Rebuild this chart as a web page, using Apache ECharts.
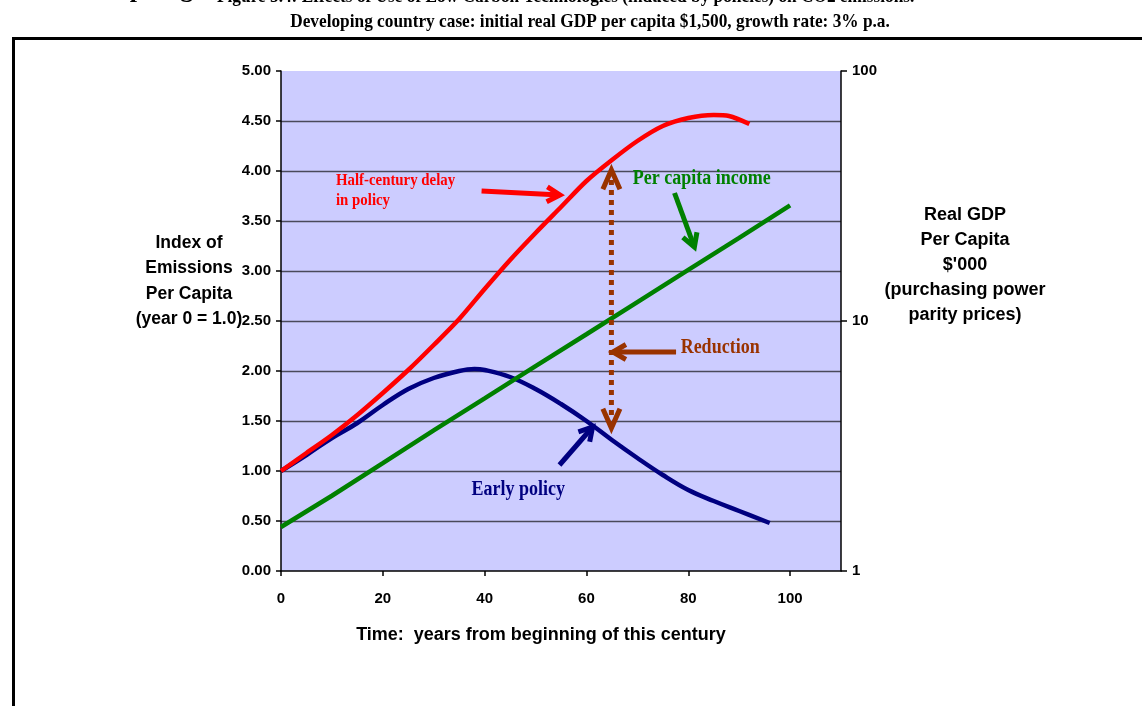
<!DOCTYPE html>
<html><head><meta charset="utf-8">
<script src="https://cdn.jsdelivr.net/npm/echarts@6/dist/echarts.min.js"></script>
<style>html,body{margin:0;padding:0;background:#fff;overflow:hidden}#c{width:1142px;height:706px}</style>
</head><body><div id="c"></div>
<script>
// ---- data ----
const delayYears = [0,5,10,15,20,25,30,35,40,45,50,55,60,65,70,75,80,85,88,92];
const delayIndex = [1.00,1.18,1.36,1.56,1.78,2.01,2.26,2.52,2.82,3.11,3.38,3.64,3.90,4.11,4.30,4.45,4.53,4.56,4.55,4.47];
const earlyYears = [0,5,10,15,20,25,30,35,38,40,45,50,55,60,65,70,75,80,85,90,96];
const earlyIndex = [1.00,1.16,1.33,1.48,1.66,1.82,1.93,2.00,2.02,2.01,1.94,1.82,1.67,1.50,1.31,1.13,0.96,0.81,0.70,0.60,0.48];
const incomeYears = [0,10,20,30,40,50,60,70,80,90,100];
const incomeGDP = [1.5,2.0,2.7,3.65,4.9,6.6,8.85,11.9,16.0,21.5,29.0];
const rightTickLabels = ['1','10','100'];

const titleLine1 = 'Figure 5.4: Effects of Use of Low Carbon Technologies (induced by policies) on CO2 emissions.';
const titleLine2 = 'Developing country case: initial real GDP per capita $1,500, growth rate: 3% p.a.';

(function () {
const zip = (xs, ys) => xs.map((x, i) => [x, ys[i]]);

const SANS = 'Liberation Sans, Arial, sans-serif';
const SERIF = 'Liberation Serif, Times New Roman, serif';
const RED = '#FF0000', GREEN = '#008000', NAVY = '#000080', BROWN = '#993300';

const chart = echarts.init(document.getElementById('c'), null, {renderer: 'canvas'});

chart.setOption({
  animation: false,
  backgroundColor: '#ffffff',
  grid: {left: 281, top: 71, width: 560, height: 500, show: true, backgroundColor: '#CCCCFF', borderWidth: 0},
  xAxis: {
    type: 'value', min: 0, max: 110, interval: 20,
    axisLine: {show: true, lineStyle: {color: '#000', width: 1.5}},
    axisTick: {show: true, length: 5, lineStyle: {color: '#000', width: 1.5}},
    axisLabel: {color: '#000', fontFamily: SANS, fontWeight: 'bold', fontSize: 15, margin: 20, showMaxLabel: false},
    splitLine: {show: false}
  },
  yAxis: [{
    type: 'value', min: 0, max: 5, interval: 0.5, position: 'left',
    axisLine: {show: true, lineStyle: {color: '#000', width: 1.5}},
    axisTick: {show: true, length: 5, lineStyle: {color: '#000', width: 1.5}},
    axisLabel: {color: '#000', fontFamily: SANS, fontWeight: 'bold', fontSize: 15, margin: 10,
      formatter: v => v.toFixed(2)},
    splitLine: {show: true, showMinLine: false, showMaxLine: false, lineStyle: {color: '#4a4a5a', width: 1.3}}
  }, {
    type: 'log', logBase: 10, min: 1, max: 100, position: 'right',
    axisLine: {show: true, lineStyle: {color: '#000', width: 1.5}},
    axisTick: {show: true, length: 6, lineStyle: {color: '#000', width: 1.5}},
    minorTick: {show: false},
    axisLabel: {color: '#000', fontFamily: SANS, fontWeight: 'bold', fontSize: 15, margin: 11,
      formatter: v => rightTickLabels[Math.round(Math.log10(v))]},
    splitLine: {show: false}
  }],
  series: [{
    name: 'Early policy', type: 'line', yAxisIndex: 0, data: zip(earlyYears, earlyIndex),
    showSymbol: false, smooth: 0.4, lineStyle: {color: NAVY, width: 4.5}, itemStyle: {color: NAVY}, z: 3
  }, {
    name: 'Half-century delay in policy', type: 'line', yAxisIndex: 0, data: zip(delayYears, delayIndex),
    showSymbol: false, smooth: 0.3, lineStyle: {color: RED, width: 4.5}, itemStyle: {color: RED}, z: 4
  }, {
    name: 'Per capita income', type: 'line', yAxisIndex: 1, data: zip(incomeYears, incomeGDP),
    showSymbol: false, smooth: false, lineStyle: {color: GREEN, width: 4.5}, itemStyle: {color: GREEN}, z: 5
  }]
});

// ---- annotations (in data coordinates of the left axis) ----
const px = (x, y) => chart.convertToPixel({xAxisIndex: 0, yAxisIndex: 0}, [x, y]);

function arrowHead(from, tip, L, deg) {
  const dx = tip[0] - from[0], dy = tip[1] - from[1];
  const len = Math.hypot(dx, dy), ux = dx / len, uy = dy / len;
  const a = deg * Math.PI / 180;
  const rot = (s) => [
    tip[0] - L * (ux * Math.cos(s * a) - uy * Math.sin(s * a)),
    tip[1] - L * (ux * Math.sin(s * a) + uy * Math.cos(s * a))
  ];
  return [rot(1), tip, rot(-1)];
}

function arrow(fromD, tipD, color, width, L, deg) {
  const f = px(fromD[0], fromD[1]), t = px(tipD[0], tipD[1]);
  return [
    {type: 'line', z: 100, shape: {x1: f[0], y1: f[1], x2: t[0], y2: t[1]}, style: {stroke: color, lineWidth: width}},
    {type: 'polyline', z: 100, shape: {points: arrowHead(f, t, L, deg)}, style: {stroke: color, lineWidth: width, fill: null, lineJoin: 'miter'}}
  ];
}

function label(xD, yD, text, color, size) {
  const p = px(xD, yD);
  return {type: 'text', z: 100, x: p[0], y: p[1], scaleX: 0.9,
    style: {text: text, fill: color, font: 'bold ' + size + 'px ' + SERIF, align: 'left', verticalAlign: 'middle'}};
}

const g = [];
// frame
g.push({type: 'line', z: 50, shape: {x1: 12, y1: 38.5, x2: 1142, y2: 38.5}, style: {stroke: '#000', lineWidth: 3}});
g.push({type: 'line', z: 50, shape: {x1: 13.5, y1: 37, x2: 13.5, y2: 706}, style: {stroke: '#000', lineWidth: 3}});
// header (first line is cut off at the top of the page)
g.push({type: 'text', z: 50, x: 85, y: -10, style: {text: 'Graphing', fill: '#000', font: 'bold 26px ' + SERIF, align: 'left', verticalAlign: 'middle'}});
g.push({type: 'text', z: 50, x: 217, y: -3, scaleX: 0.91, style: {text: titleLine1, fill: '#000', font: 'bold 19px ' + SERIF, align: 'left', verticalAlign: 'middle'}});
g.push({type: 'text', z: 50, x: 590, y: 22, scaleX: 0.91, style: {text: titleLine2, fill: '#000', font: 'bold 19px ' + SERIF, align: 'center', verticalAlign: 'middle'}});
// axis titles
g.push({type: 'text', z: 50, x: 189, y: 281, style: {text: 'Index of\nEmissions\nPer Capita\n(year 0 = 1.0)', fill: '#000', font: 'bold 17.5px ' + SANS, lineHeight: 25.5, align: 'center', verticalAlign: 'middle'}});
g.push({type: 'text', z: 50, x: 965, y: 265, style: {text: "Real GDP\nPer Capita\n$'000\n(purchasing power\nparity prices)", fill: '#000', font: 'bold 18px ' + SANS, lineHeight: 25, align: 'center', verticalAlign: 'middle'}});
g.push({type: 'text', z: 50, x: 541, y: 635, style: {text: 'Time:  years from beginning of this century', fill: '#000', font: 'bold 18px ' + SANS, align: 'center', verticalAlign: 'middle'}});

// text annotations
g.push(label(10.8, 3.90, 'Half-century delay', RED, 16.5));
g.push(label(10.8, 3.70, 'in policy', RED, 16.5));
g.push(label(69.1, 3.92, 'Per capita income', GREEN, 20));
g.push(label(78.5, 2.23, 'Reduction', BROWN, 20));
g.push(label(37.4, 0.81, 'Early policy', NAVY, 20));

// arrows
g.push(...arrow([39.4, 3.80], [54.8, 3.76], RED, 5, 15, 30));
g.push(...arrow([77.3, 3.78], [81.2, 3.24], GREEN, 5, 15, 30));
g.push(...arrow([77.6, 2.19], [65.2, 2.19], BROWN, 5, 15, 30));
g.push(...arrow([54.7, 1.06], [61.2, 1.44], NAVY, 5, 15, 30));
// dotted double arrow (reduction)
const pTop = px(64.9, 4.01), pBot = px(64.9, 1.43);
g.push({type: 'line', z: 100, shape: {x1: pTop[0], y1: pTop[1] + 10, x2: pBot[0], y2: pBot[1] - 10}, style: {stroke: BROWN, lineWidth: 5, lineDash: [5, 5]}});
g.push({type: 'polyline', z: 100, shape: {points: arrowHead(pBot, pTop, 21, 24)}, style: {stroke: BROWN, lineWidth: 5, fill: null}});
g.push({type: 'polyline', z: 100, shape: {points: arrowHead(pTop, pBot, 21, 24)}, style: {stroke: BROWN, lineWidth: 5, fill: null}});

chart.setOption({graphic: g});
})();
</script>
</body></html>
